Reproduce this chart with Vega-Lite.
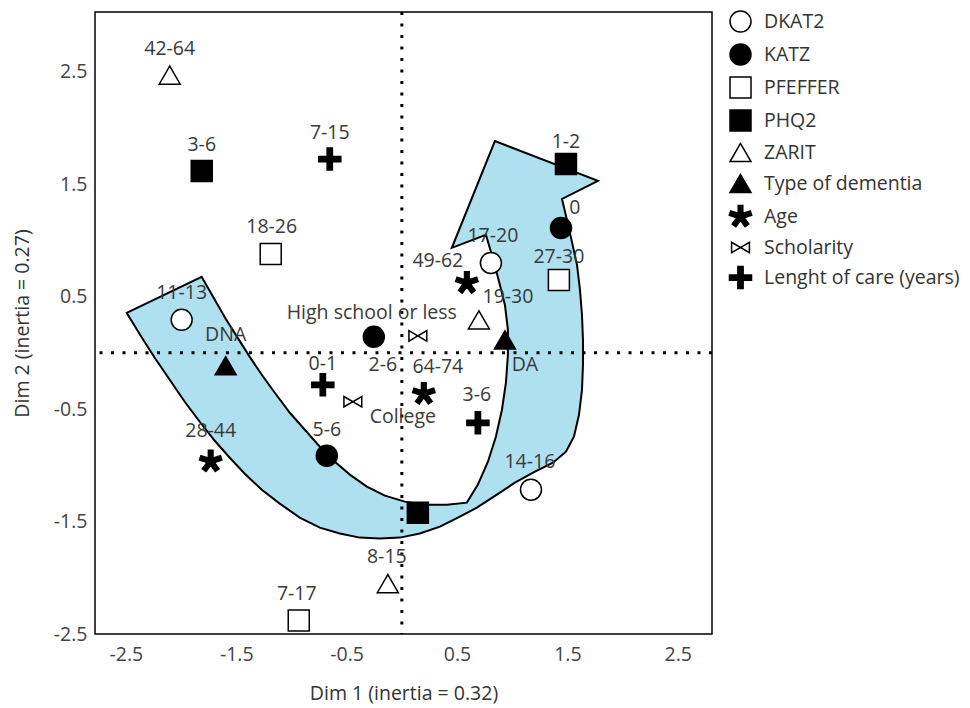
{
  "$schema": "https://vega.github.io/schema/vega-lite/v6.json",
  "width": 617,
  "height": 622,
  "autosize": {"type": "none"},
  "padding": {"left": 95, "top": 12, "right": 258, "bottom": 74},
  "background": "white",
  "config": {
    "view": {"stroke": "black", "strokeWidth": 1.5},
    "font": "Open Sans",
    "axis": {
      "grid": false, "ticks": false, "domain": false,
      "labelFont": "Open Sans", "labelFontSize": 19.5, "labelColor": "#444444",
      "titleFont": "Open Sans", "titleFontSize": 19.5, "titleColor": "#333333", "titleFontWeight": "normal"
    },
    "legend": {
      "orient": "none", "legendX": 634, "legendY": -2,
      "padding": 0, "symbolSize": 441, "symbolStrokeColor": "black", "symbolStrokeWidth": 1.5,
      "symbolOpacity": 1, "labelFont": "Open Sans", "labelFontSize": 19.5, "labelColor": "#333333",
      "labelOffset": 12, "rowPadding": 6, "labelLimit": 300
    }
  },
  "datasets": {
    "arrow": [
      {"i": 1, "ax": -1.813, "ay": 0.675},
      {"i": 2, "ax": -1.704, "ay": 0.488},
      {"i": 3, "ax": -1.596, "ay": 0.302},
      {"i": 4, "ax": -1.487, "ay": 0.133},
      {"i": 5, "ax": -1.378, "ay": -0.036},
      {"i": 6, "ax": -1.269, "ay": -0.195},
      {"i": 7, "ax": -1.151, "ay": -0.355},
      {"i": 8, "ax": -1.015, "ay": -0.533},
      {"i": 9, "ax": -0.879, "ay": -0.684},
      {"i": 10, "ax": -0.743, "ay": -0.835},
      {"i": 11, "ax": -0.607, "ay": -0.968},
      {"i": 12, "ax": -0.471, "ay": -1.083},
      {"i": 13, "ax": -0.317, "ay": -1.190},
      {"i": 14, "ax": -0.154, "ay": -1.270},
      {"i": 15, "ax": 0.027, "ay": -1.323},
      {"i": 16, "ax": 0.209, "ay": -1.350},
      {"i": 17, "ax": 0.408, "ay": -1.350},
      {"i": 18, "ax": 0.589, "ay": -1.332},
      {"i": 19, "ax": 0.689, "ay": -1.172},
      {"i": 20, "ax": 0.780, "ay": -0.968},
      {"i": 21, "ax": 0.852, "ay": -0.746},
      {"i": 22, "ax": 0.907, "ay": -0.506},
      {"i": 23, "ax": 0.943, "ay": -0.266},
      {"i": 24, "ax": 0.961, "ay": -0.018},
      {"i": 25, "ax": 0.961, "ay": 0.204},
      {"i": 26, "ax": 0.934, "ay": 0.426},
      {"i": 27, "ax": 0.888, "ay": 0.604},
      {"i": 28, "ax": 0.834, "ay": 0.808},
      {"i": 29, "ax": 0.789, "ay": 0.959},
      {"i": 30, "ax": 0.762, "ay": 1.048},
      {"i": 31, "ax": 0.453, "ay": 0.933},
      {"i": 32, "ax": 0.843, "ay": 1.883},
      {"i": 33, "ax": 1.777, "ay": 1.528},
      {"i": 34, "ax": 1.451, "ay": 1.368},
      {"i": 35, "ax": 1.496, "ay": 1.181},
      {"i": 36, "ax": 1.541, "ay": 0.986},
      {"i": 37, "ax": 1.587, "ay": 0.782},
      {"i": 38, "ax": 1.614, "ay": 0.560},
      {"i": 39, "ax": 1.632, "ay": 0.337},
      {"i": 40, "ax": 1.641, "ay": 0.115},
      {"i": 41, "ax": 1.641, "ay": -0.107},
      {"i": 42, "ax": 1.632, "ay": -0.329},
      {"i": 43, "ax": 1.605, "ay": -0.551},
      {"i": 44, "ax": 1.559, "ay": -0.746},
      {"i": 45, "ax": 1.487, "ay": -0.879},
      {"i": 46, "ax": 1.369, "ay": -0.977},
      {"i": 47, "ax": 1.206, "ay": -1.057},
      {"i": 48, "ax": 1.024, "ay": -1.155},
      {"i": 49, "ax": 0.861, "ay": -1.261},
      {"i": 50, "ax": 0.680, "ay": -1.377},
      {"i": 51, "ax": 0.508, "ay": -1.465},
      {"i": 52, "ax": 0.345, "ay": -1.545},
      {"i": 53, "ax": 0.163, "ay": -1.607},
      {"i": 54, "ax": -0.018, "ay": -1.643},
      {"i": 55, "ax": -0.199, "ay": -1.652},
      {"i": 56, "ax": -0.381, "ay": -1.643},
      {"i": 57, "ax": -0.562, "ay": -1.607},
      {"i": 58, "ax": -0.743, "ay": -1.554},
      {"i": 59, "ax": -0.925, "ay": -1.465},
      {"i": 60, "ax": -1.106, "ay": -1.341},
      {"i": 61, "ax": -1.269, "ay": -1.217},
      {"i": 62, "ax": -1.423, "ay": -1.075},
      {"i": 63, "ax": -1.559, "ay": -0.933},
      {"i": 64, "ax": -1.695, "ay": -0.782},
      {"i": 65, "ax": -1.831, "ay": -0.613},
      {"i": 66, "ax": -1.967, "ay": -0.435},
      {"i": 67, "ax": -2.103, "ay": -0.240},
      {"i": 68, "ax": -2.239, "ay": -0.044},
      {"i": 69, "ax": -2.366, "ay": 0.151},
      {"i": 70, "ax": -2.493, "ay": 0.355}
    ],
    "pts": [
      {"group": "DKAT2", "label": "11-13", "x": -1.995, "y": 0.293, "lx": -1.995, "ly": 0.533},
      {"group": "DKAT2", "label": "17-20", "x": 0.807, "y": 0.799, "lx": 0.825, "ly": 1.039},
      {"group": "DKAT2", "label": "14-16", "x": 1.170, "y": -1.217, "lx": 1.160, "ly": -0.968},
      {"group": "KATZ", "label": "0", "x": 1.442, "y": 1.110, "lx": 1.568, "ly": 1.288},
      {"group": "KATZ", "label": "2-6", "x": -0.254, "y": 0.142, "lx": -0.172, "ly": -0.107},
      {"group": "KATZ", "label": "5-6", "x": -0.680, "y": -0.915, "lx": -0.680, "ly": -0.684},
      {"group": "PFEFFER", "label": "18-26", "x": -1.188, "y": 0.879, "lx": -1.179, "ly": 1.119},
      {"group": "PFEFFER", "label": "27-30", "x": 1.423, "y": 0.648, "lx": 1.423, "ly": 0.853},
      {"group": "PFEFFER", "label": "7-17", "x": -0.934, "y": -2.380, "lx": -0.952, "ly": -2.140},
      {"group": "PHQ2", "label": "3-6", "x": -1.813, "y": 1.616, "lx": -1.813, "ly": 1.847},
      {"group": "PHQ2", "label": "1-2", "x": 1.487, "y": 1.679, "lx": 1.487, "ly": 1.874},
      {"group": "PHQ2", "label": "", "x": 0.145, "y": -1.421, "lx": 0.145, "ly": -1.421},
      {"group": "ZARIT", "label": "42-64", "x": -2.103, "y": 2.469, "lx": -2.103, "ly": 2.700},
      {"group": "ZARIT", "label": "19-30", "x": 0.698, "y": 0.293, "lx": 0.961, "ly": 0.497},
      {"group": "ZARIT", "label": "8-15", "x": -0.127, "y": -2.052, "lx": -0.136, "ly": -1.812},
      {"group": "Type of dementia", "label": "DNA", "x": -1.596, "y": -0.115, "lx": -1.596, "ly": 0.155},
      {"group": "Type of dementia", "label": "DA", "x": 0.934, "y": 0.115, "lx": 1.115, "ly": -0.107},
      {"group": "Age", "label": "28-44", "x": -1.732, "y": -0.964, "lx": -1.732, "ly": -0.693},
      {"group": "Age", "label": "49-62", "x": 0.589, "y": 0.622, "lx": 0.326, "ly": 0.817},
      {"group": "Age", "label": "64-74", "x": 0.199, "y": -0.364, "lx": 0.326, "ly": -0.124},
      {"group": "Scholarity", "label": "High school or less", "x": 0.145, "y": 0.151, "lx": -0.272, "ly": 0.355},
      {"group": "Scholarity", "label": "College", "x": -0.444, "y": -0.435, "lx": 0.009, "ly": -0.568},
      {"group": "Lenght of care (years)", "label": "0-1", "x": -0.716, "y": -0.284, "lx": -0.716, "ly": -0.098},
      {"group": "Lenght of care (years)", "label": "3-6", "x": 0.689, "y": -0.622, "lx": 0.680, "ly": -0.373},
      {"group": "Lenght of care (years)", "label": "7-15", "x": -0.653, "y": 1.723, "lx": -0.653, "ly": 1.950}
    ]
  },
  "layer": [
    {
      "data": {"name": "arrow"},
      "mark": {"type": "line", "interpolate": "linear-closed", "fill": "#aee0f0", "stroke": "black", "strokeWidth": 2, "strokeJoin": "miter"},
      "encoding": {
        "x": {"field": "ax", "type": "quantitative", "scale": {"domain": [-2.78, 2.81], "zero": false, "nice": false},
          "axis": {"title": "Dim 1 (inertia = 0.32)", "values": [-2.5, -1.5, -0.5, 0.5, 1.5, 2.5], "labelPadding": 11, "titlePadding": 21,
            "labelExpr": "datum.value < 0 ? '-' + format(-datum.value, '.1f') : format(datum.value, '.1f')"}},
        "y": {"field": "ay", "type": "quantitative", "scale": {"domain": [-2.5, 3.03], "zero": false, "nice": false},
          "axis": {"title": "Dim 2 (inertia = 0.27)", "values": [-2.5, -1.5, -0.5, 0.5, 1.5, 2.5], "labelPadding": 8, "titlePadding": 21,
            "labelExpr": "datum.value < 0 ? '-' + format(-datum.value, '.1f') : format(datum.value, '.1f')"}},
        "order": {"field": "i", "type": "quantitative"}
      }
    },
    {
      "data": {"values": [{}]},
      "mark": {"type": "rule", "color": "black", "strokeWidth": 3, "strokeDash": [3, 8.5]},
      "encoding": {"x": {"datum": 0}}
    },
    {
      "data": {"values": [{}]},
      "mark": {"type": "rule", "color": "black", "strokeWidth": 3, "strokeDash": [3, 8.5]},
      "encoding": {"y": {"datum": 0}}
    },
    {
      "data": {"name": "pts"},
      "mark": {"type": "point", "size": 441, "stroke": "black", "strokeWidth": 1.5, "opacity": 1},
      "encoding": {
        "x": {"field": "x", "type": "quantitative"},
        "y": {"field": "y", "type": "quantitative"},
        "shape": {"field": "group", "type": "nominal",
          "legend": {"title": null, "encode": {"symbols": {"update": {"stroke": {"value": "black"}, "strokeWidth": {"value": 1.5}}}}},
          "scale": {
            "domain": ["DKAT2", "KATZ", "PFEFFER", "PHQ2", "ZARIT", "Type of dementia", "Age", "Scholarity", "Lenght of care (years)"],
            "range": ["circle", "circle", "square", "square", "triangle-up", "triangle-up",
              "M0.22,0.15L0.22,-1.05L-0.22,-1.05L-0.22,0.15ZM-0.0747,0.2556L1.0667,-0.1153L0.9307,-0.5337L-0.2107,-0.1628ZM0.2107,-0.1628L-0.9307,-0.5337L-1.0667,-0.1153L0.0747,0.2556ZM-0.0898,-0.2507L-0.7952,0.7202L-0.4392,0.9788L0.2662,0.0079ZM-0.2662,0.0079L0.4392,0.9788L0.7952,0.7202L0.0898,-0.2507Z",
              "M-0.85,-0.5L0.85,0.5L0.85,-0.5L-0.85,0.5Z",
              "M-1.05,-0.25L-0.25,-0.25L-0.25,-1.05L0.25,-1.05L0.25,-0.25L1.05,-0.25L1.05,0.25L0.25,0.25L0.25,1.05L-0.25,1.05L-0.25,0.25L-1.05,0.25Z"]
          }},
        "fill": {"field": "group", "type": "nominal",
          "legend": {"title": null, "encode": {"symbols": {"update": {"stroke": {"value": "black"}, "strokeWidth": {"value": 1.5}}}}},
          "scale": {
            "domain": ["DKAT2", "KATZ", "PFEFFER", "PHQ2", "ZARIT", "Type of dementia", "Age", "Scholarity", "Lenght of care (years)"],
            "range": ["white", "black", "white", "black", "white", "black", "black", "white", "black"]
          }}
      }
    },
    {
      "data": {"name": "pts"},
      "mark": {"type": "text", "fontSize": 19.5, "color": "#3a3a3a", "align": "center", "baseline": "middle"},
      "encoding": {
        "x": {"field": "lx", "type": "quantitative"},
        "y": {"field": "ly", "type": "quantitative"},
        "text": {"field": "label"}
      }
    }
  ]
}
